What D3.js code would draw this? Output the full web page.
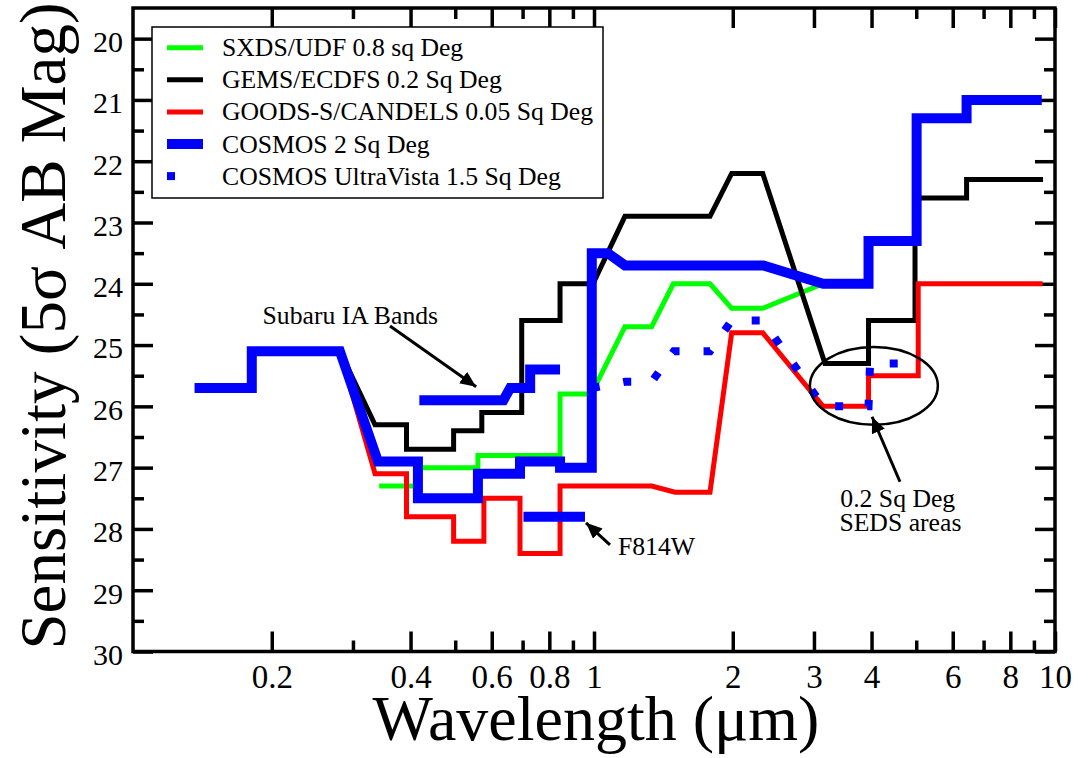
<!DOCTYPE html>
<html>
<head>
<meta charset="utf-8">
<script src="https://cdn.jsdelivr.net/npm/d3@7"></script>
<style>
  body { margin: 0; background: #fff; }
  svg, svg text { font-family: "Liberation Serif", Tinos, "Times New Roman", "DejaVu Serif", serif; }
  svg text { fill: #000; }
</style>
</head>
<body>
<div id="app"></div>
<script>
// [wavelength in micron, 5 sigma AB mag]
const sxdsUdf = [
  [0.342, 27.3], [0.415, 27.3], [0.415, 27.0], [0.56, 27.0], [0.56, 26.8],
  [0.844, 26.8], [0.844, 25.8], [0.987, 25.8], [1.167, 24.7], [1.334, 24.7],
  [1.486, 24.0], [1.785, 24.0], [1.989, 24.4], [2.323, 24.4], [3.14, 24.0]
];
const gemsEcdfs = [
  [0.281, 25.1], [0.335, 26.3], [0.392, 26.3], [0.392, 26.7], [0.496, 26.7],
  [0.496, 26.4], [0.571, 26.4], [0.571, 26.1], [0.697, 26.1], [0.697, 24.6],
  [0.844, 24.6], [0.844, 24.0], [0.995, 24.0], [1.167, 22.9], [1.785, 22.9],
  [1.989, 22.2], [2.323, 22.2], [3.17, 25.3], [3.94, 25.3], [3.94, 24.6],
  [4.97, 24.6], [4.97, 22.6], [6.43, 22.6], [6.43, 22.3], [9.42, 22.3]
];
const goodsCandels = [
  [0.281, 25.1], [0.335, 27.1], [0.392, 27.1], [0.392, 27.8], [0.496, 27.8],
  [0.496, 28.2], [0.577, 28.2], [0.577, 27.5], [0.691, 27.5], [0.691, 28.4],
  [0.844, 28.4], [0.844, 27.3], [1.334, 27.3], [1.499, 27.4], [1.785, 27.4],
  [1.989, 24.8], [2.323, 24.8], [3.14, 26.0], [3.94, 26.0], [3.94, 25.5],
  [5.05, 25.5], [5.05, 24.0], [9.4, 24.0]
];
const cosmos = [
  [0.136, 25.7], [0.181, 25.7], [0.181, 25.1], [0.281, 25.1], [0.340, 26.9],
  [0.415, 26.9], [0.415, 27.5], [0.56, 27.5], [0.56, 27.1], [0.691, 27.1],
  [0.691, 26.9], [0.844, 26.9], [0.844, 27.0], [0.989, 27.0], [0.989, 23.5],
  [1.072, 23.5], [1.167, 23.7], [2.33, 23.7], [3.14, 24.0], [3.94, 24.0],
  [3.94, 23.3], [5.01, 23.3], [5.01, 21.3], [6.43, 21.3], [6.43, 21.0],
  [9.36, 21.0]
];
const subaruIA = [
  [0.418, 25.9], [0.636, 25.9], [0.658, 25.7], [0.727, 25.7], [0.727, 25.4],
  [0.844, 25.4]
];
const f814w = [[0.703, 27.8], [0.956, 27.8]];
const ultraVista = [
  [0.989, 25.7], [1.167, 25.6], [1.334, 25.6], [1.49, 25.1], [1.785, 25.1],
  [1.989, 24.6], [2.323, 24.6], [3.14, 26.0], [3.94, 26.0], [3.97, 25.3],
  [5.0, 25.3]
];

const legendLabels = [
  "SXDS/UDF 0.8 sq Deg",
  "GEMS/ECDFS 0.2 Sq Deg",
  "GOODS-S/CANDELS 0.05 Sq Deg",
  "COSMOS 2 Sq Deg",
  "COSMOS UltraVista 1.5 Sq Deg"
];

const xMajorTicks = [0.2, 0.4, 0.6, 0.8, 1, 2, 3, 4, 6, 8, 10];
const xMinorTicks = [0.3, 0.5, 0.7, 0.9, 5, 7, 9];
const yMajorTicks = [20, 21, 22, 23, 24, 25, 26, 27, 28, 29, 30];
const yMinorTicks = [20.5, 21.5, 22.5, 23.5, 24.5, 25.5, 26.5, 27.5, 28.5, 29.5];

// callouts, anchored in data units: [wavelength, mag]
const subaruText = { text: "Subaru IA Bands", at: [0.191, 24.66] };
const subaruArrow = { from: [0.361, 24.69], to: [0.555, 25.68] };
const f814wText = { text: "F814W", at: [1.127, 28.42] };
const f814wArrow = { from: [1.083, 28.26], to: [0.961, 27.9] };
const sedsEllipse = { left: 2.94, right: 5.57, top: 25.03, bottom: 26.3 };
const sedsArrow = { from: [4.61, 27.23], to: [4.01, 26.17] };
const sedsText = [
  { text: "0.2 Sq Deg", at: [4.56, 27.64] },
  { text: "SEDS areas", at: [4.62, 28.03] }
];

// basic settings of chart
const chartSettings = {
  width: 1091,
  height: 758,
  left: 133,
  top: 8,
  right: 1055,
  bottom: 651.5,
  majorTick: 20,
  minorTick: 11,
};

const svg = d3
  .select("#app")
  .append("svg")
  .attr("width", chartSettings.width)
  .attr("height", chartSettings.height)
  .attr("font-family", "Liberation Serif, Tinos, Times New Roman, DejaVu Serif, serif");

const x = d3
  .scaleLog()
  .domain([0.1, 10])
  .range([chartSettings.left, chartSettings.right]);
const y = d3
  .scaleLinear()
  .domain([19.5, 30])
  .range([chartSettings.top, chartSettings.bottom]);

svg
  .append("defs")
  .append("marker")
  .attr("id", "arrowhead")
  .attr("markerUnits", "userSpaceOnUse")
  .attr("markerWidth", 18)
  .attr("markerHeight", 14)
  .attr("refX", 16)
  .attr("refY", 7)
  .attr("orient", "auto")
  .append("path")
  .attr("d", "M0,0 L16,7 L0,14 Z")
  .attr("fill", "#000");

//axes: ticks point into the frame on all four sides
const fmt = d3.format("~g");
const axes = svg.append("g").attr("class", "axes");
function drawAxis(axis, transform, labelled) {
  const g = axes.append("g").attr("transform", transform).call(axis);
  g.attr("font-family", null);
  g.select(".domain").remove();
  g.selectAll(".tick line").attr("stroke", "#000").attr("stroke-width", 3.5);
  // unlabelled ticks keep no empty text nodes
  if (!labelled) g.selectAll(".tick text").remove();
  return g;
}
const bottomT = `translate(0,${chartSettings.bottom})`;
const topT = `translate(0,${chartSettings.top})`;
const leftT = `translate(${chartSettings.left},0)`;
const rightT = `translate(${chartSettings.right},0)`;

const xLabels = drawAxis(
  d3.axisBottom(x).tickValues(xMajorTicks).tickSize(-chartSettings.majorTick)
    .tickPadding(36).tickFormat(fmt),
  bottomT,
  true
);
xLabels.selectAll("text").attr("dy", "0").attr("font-size", 33);
drawAxis(d3.axisBottom(x).tickValues(xMinorTicks).tickSize(-chartSettings.minorTick), bottomT);
drawAxis(d3.axisTop(x).tickValues(xMajorTicks).tickSize(-chartSettings.majorTick), topT);
drawAxis(d3.axisTop(x).tickValues(xMinorTicks).tickSize(-chartSettings.minorTick), topT);

const yLabels = drawAxis(
  d3.axisLeft(y).tickValues(yMajorTicks).tickSize(-chartSettings.majorTick)
    .tickPadding(10).tickFormat(fmt),
  leftT,
  true
);
yLabels.selectAll("text").attr("dy", "0.43em").attr("font-size", 30);
drawAxis(d3.axisLeft(y).tickValues(yMinorTicks).tickSize(-chartSettings.minorTick), leftT);
drawAxis(d3.axisRight(y).tickValues(yMajorTicks).tickSize(-chartSettings.majorTick), rightT);
drawAxis(d3.axisRight(y).tickValues(yMinorTicks).tickSize(-chartSettings.minorTick), rightT);

// the frame
svg
  .append("rect")
  .attr("x", chartSettings.left)
  .attr("y", chartSettings.top)
  .attr("width", chartSettings.right - chartSettings.left)
  .attr("height", chartSettings.bottom - chartSettings.top)
  .attr("fill", "none")
  .attr("stroke", "#000")
  .attr("stroke-width", 3.5);

// series, drawn in set order so COSMOS sits on top of the others
const line = d3
  .line()
  .x((d) => x(d[0]))
  .y((d) => y(d[1]));
const seriesStyles = [
  { data: sxdsUdf, color: "#00ff00", width: 5, dash: null },
  { data: gemsEcdfs, color: "#000000", width: 5, dash: null },
  { data: goodsCandels, color: "#ff0000", width: 5, dash: null },
  { data: cosmos, color: "#0000ff", width: 10, dash: null },
  { data: ultraVista, color: "#0000ff", width: 8, dash: "8,24" },
];
const extraSegments = [subaruIA, f814w];

const lines = svg.append("g").attr("class", "series");
seriesStyles.forEach((s, i) => {
  lines
    .append("path")
    .attr("d", line(s.data))
    .attr("fill", "none")
    .attr("stroke", s.color)
    .attr("stroke-width", s.width)
    .attr("stroke-linejoin", "miter")
    .attr("stroke-dasharray", s.dash);
  if (i === 3) {
    extraSegments.forEach((seg) => {
      lines
        .append("path")
        .attr("d", line(seg))
        .attr("fill", "none")
        .attr("stroke", s.color)
        .attr("stroke-width", s.width)
        .attr("stroke-linejoin", "miter");
    });
  }
});

// annotations
const notes = svg.append("g").attr("class", "notes").attr("font-size", 25.7);
function arrow(a) {
  notes
    .append("line")
    .attr("x1", x(a.from[0]))
    .attr("y1", y(a.from[1]))
    .attr("x2", x(a.to[0]))
    .attr("y2", y(a.to[1]))
    .attr("stroke", "#000")
    .attr("stroke-width", 3)
    .attr("marker-end", "url(#arrowhead)");
}
notes
  .append("text")
  .attr("x", x(subaruText.at[0]))
  .attr("y", y(subaruText.at[1]))
  .text(subaruText.text);
arrow(subaruArrow);
notes
  .append("text")
  .attr("x", x(f814wText.at[0]))
  .attr("y", y(f814wText.at[1]))
  .text(f814wText.text);
arrow(f814wArrow);
notes
  .append("ellipse")
  .attr("cx", (x(sedsEllipse.left) + x(sedsEllipse.right)) / 2)
  .attr("cy", (y(sedsEllipse.top) + y(sedsEllipse.bottom)) / 2)
  .attr("rx", (x(sedsEllipse.right) - x(sedsEllipse.left)) / 2)
  .attr("ry", (y(sedsEllipse.bottom) - y(sedsEllipse.top)) / 2)
  .attr("fill", "none")
  .attr("stroke", "#000")
  .attr("stroke-width", 2.5);
arrow(sedsArrow);
notes
  .selectAll("text.seds")
  .data(sedsText)
  .enter()
  .append("text")
  .attr("class", "seds")
  .attr("x", (d) => x(d.at[0]))
  .attr("y", (d) => y(d.at[1]))
  .attr("text-anchor", "middle")
  .text((d) => d.text);

// legend box
const legend = svg.append("g").attr("class", "legend");
legend
  .append("rect")
  .attr("x", 152)
  .attr("y", 27)
  .attr("width", 451)
  .attr("height", 171)
  .attr("fill", "#fff")
  .attr("stroke", "#000")
  .attr("stroke-width", 1.5);
const rows = legend
  .selectAll("g.row")
  .data(legendLabels)
  .enter()
  .append("g")
  .attr("class", "row")
  .attr("transform", (d, i) => `translate(167,${47.7 + i * 32.1})`);
rows
  .append("line")
  .attr("x1", 0)
  .attr("x2", 36)
  .attr("stroke", (d, i) => seriesStyles[i].color)
  .attr("stroke-width", (d, i) => seriesStyles[i].width)
  .attr("stroke-dasharray", (d, i) => (seriesStyles[i].dash ? "8,28" : null));
rows
  .append("text")
  .attr("x", 55)
  .attr("y", 8.5)
  .attr("font-size", 25.7)
  .text((d) => d);

// axis titles
svg
  .append("text")
  .attr("x", 596)
  .attr("y", 740)
  .attr("text-anchor", "middle")
  .attr("font-size", 64)
  .text("Wavelength (\u03bcm)");
svg
  .append("text")
  .attr("transform", "translate(65,326) rotate(-90)")
  .attr("text-anchor", "middle")
  .attr("font-size", 65)
  .text("Sensitivity (5\u03c3 AB Mag)");
</script>
</body>
</html>
